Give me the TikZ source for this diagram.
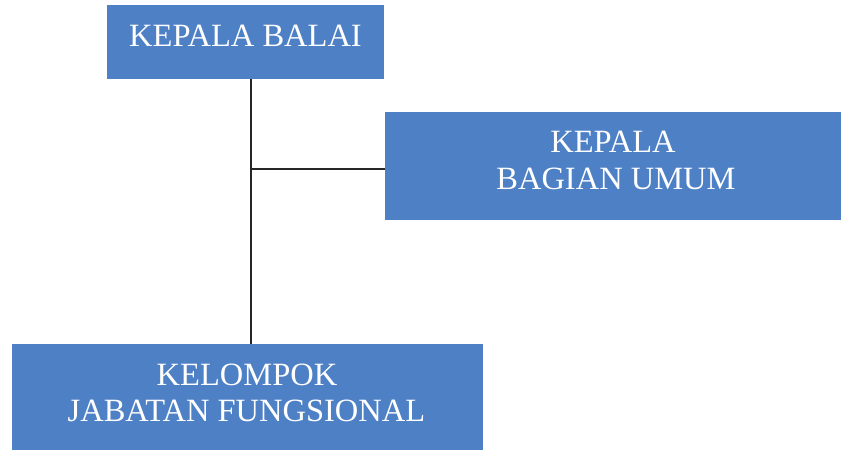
\documentclass[tikz,border=0pt]{standalone}
\usepackage{fontspec}
\setmainfont{Liberation Serif}
\definecolor{boxblue}{RGB}{78,128,198}
\begin{document}
\begin{tikzpicture}[x=1pt,y=-1pt,
  box/.style={fill=boxblue, draw=none, inner sep=0pt, outer sep=0pt, anchor=center},
  lbl/.style={text=white, font=\fontsize{32.5}{32.5}\selectfont, anchor=base, inner sep=0pt},
  conn/.style={draw=black!85, line width=1.2pt}]
\useasboundingbox[fill=white] (0,0) rectangle (841,450);
\node[box, minimum width=277pt, minimum height=74pt] (balai) at (245.5,42) {};
\node[box, minimum width=456pt, minimum height=108pt] (umum) at (613,166) {};
\node[box, minimum width=471pt, minimum height=106pt] (jf) at (247.5,397) {};
\node[lbl] (t1) at (245.5,46) {KEPALA BALAI};
\node[lbl] (t2a) at (613,152) {KEPALA};
\node[lbl] (t2b) at (616,189) {BAGIAN UMUM};
\node[lbl] (t3a) at (247,385) {KELOMPOK};
\node[lbl] (t3b) at (246.5,421) {JABATAN FUNGSIONAL};
\coordinate (j) at (251,169);
\draw[conn] (balai.south -| j) -- (jf.north -| j);
\draw[conn] (j) -- (umum.west |- j);
\end{tikzpicture}
\end{document}
